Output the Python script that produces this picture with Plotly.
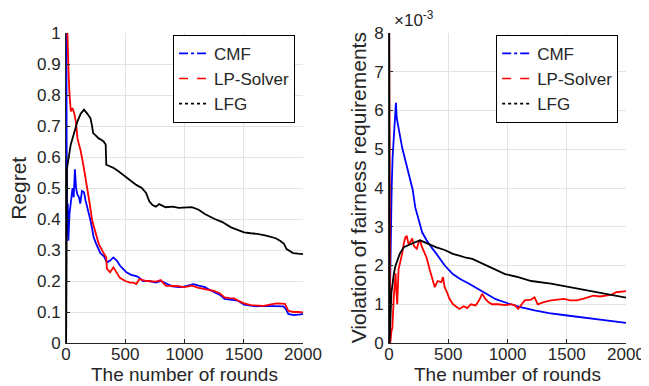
import plotly.graph_objects as go

# ---------------- Left panel: Regret ----------------
cmf_regret_x = [1, 3, 6, 10, 15, 20, 30, 40, 55, 65, 75, 85, 95, 110, 120, 135, 152, 165, 179, 195, 207,
                220, 234, 255, 275, 290, 320, 345, 370, 400, 430, 455, 480, 510, 550, 600, 620, 650, 700,
                760, 800, 850, 897, 950, 979, 1030, 1076, 1120, 1172, 1210, 1255, 1300, 1338, 1400, 1448,
                1503, 1550, 1600, 1669, 1750, 1800, 1834, 1855, 1876, 1920, 1950, 1980, 2000]
cmf_regret_y = [0.03, 1.0, 0.6, 0.35, 0.45, 0.33, 0.42, 0.45, 0.5, 0.47, 0.56, 0.5, 0.48, 0.47, 0.45, 0.49,
                0.486, 0.46, 0.44, 0.41, 0.395, 0.37, 0.34, 0.32, 0.30, 0.29, 0.28, 0.26, 0.265, 0.276,
                0.265, 0.25, 0.24, 0.228, 0.22, 0.215, 0.21, 0.2, 0.2, 0.195, 0.2, 0.19, 0.183, 0.18, 0.18,
                0.185, 0.19, 0.185, 0.18, 0.172, 0.163, 0.155, 0.142, 0.14, 0.137, 0.124, 0.12, 0.118,
                0.12, 0.118, 0.117, 0.118, 0.11, 0.094, 0.09, 0.09, 0.092, 0.094]

lp_regret_x = [12, 16, 22, 30, 41, 55, 70, 83, 97, 110, 124, 146, 162, 179, 200, 221, 248, 276, 317, 340,
               345, 372, 400, 430, 455, 500, 540, 565, 593, 620, 680, 760, 800, 841, 900, 952, 1000, 1062,
               1120, 1172, 1210, 1255, 1300, 1338, 1380, 1421, 1460, 1503, 1560, 1620, 1669, 1720, 1779,
               1820, 1848, 1876, 1920, 1960, 2000]
lp_regret_y = [1.0, 0.93, 0.866, 0.8, 0.747, 0.758, 0.74, 0.715, 0.66, 0.64, 0.62, 0.575, 0.54, 0.5, 0.45,
               0.395, 0.36, 0.32, 0.29, 0.276, 0.24, 0.228, 0.244, 0.225, 0.21, 0.2, 0.195, 0.195, 0.19,
               0.206, 0.2, 0.198, 0.203, 0.185, 0.185, 0.183, 0.18, 0.185, 0.178, 0.174, 0.172, 0.167,
               0.16, 0.147, 0.145, 0.144, 0.135, 0.128, 0.122, 0.12, 0.12, 0.124, 0.128, 0.127, 0.126,
               0.104, 0.1, 0.1, 0.099]

lfg_regret_x = [1, 3, 5, 8, 15, 28, 40, 55, 77, 97, 124, 152, 179, 207, 220, 229, 250, 276, 300, 317,
                335, 340, 370, 400, 440, 483, 540, 593, 640, 676, 703, 730, 759, 786, 841, 900, 952,
                1000, 1062, 1120, 1172, 1255, 1320, 1393, 1450, 1503, 1560, 1614, 1680, 1724, 1770,
                1807, 1840, 1862, 1917, 1960, 2000]
lfg_regret_y = [0.0, 0.45, 0.35, 0.56, 0.58, 0.62, 0.64, 0.66, 0.69, 0.715, 0.74, 0.753, 0.74, 0.725,
                0.70, 0.677, 0.67, 0.66, 0.655, 0.65, 0.64, 0.575, 0.57, 0.565, 0.555, 0.543, 0.525,
                0.51, 0.5, 0.484, 0.457, 0.445, 0.44, 0.448, 0.438, 0.44, 0.436, 0.437, 0.438, 0.43,
                0.416, 0.4, 0.39, 0.373, 0.365, 0.357, 0.354, 0.352, 0.347, 0.343, 0.338, 0.33, 0.32,
                0.303, 0.29, 0.288, 0.287]

# ---------------- Right panel: Violation (x 1e-3) ----------------
cmf_viol_x = [1, 5, 10, 15, 22, 30, 41, 50, 58, 65, 75, 83, 95, 110, 130, 150, 180, 200, 221, 250, 280,
              317, 345, 400, 470, 538, 600, 676, 750, 814, 900, 1007, 1100, 1228, 1350, 1503, 1650,
              1779, 1900, 2000]
cmf_viol_y = [0.0, 1.0, 2.5, 3.5, 4.0, 4.8, 5.5, 5.9, 6.2, 5.8, 5.6, 5.45, 5.3, 5.05, 4.8, 4.5, 4.2, 3.95,
              3.5, 3.16, 2.85, 2.65, 2.52, 2.3, 2.0, 1.78, 1.65, 1.53, 1.4, 1.27, 1.13, 1.02, 0.93, 0.84,
              0.77, 0.71, 0.66, 0.62, 0.56, 0.52]

lp_viol_x = [1, 4, 10, 20, 28, 40, 55, 62, 69, 80, 97, 110, 124, 138, 150, 165, 179, 195, 210, 234, 250,
             262, 275, 290, 317, 345, 370, 386, 410, 441, 455, 469, 490, 510, 540, 560, 593, 630, 660,
             690, 731, 760, 786, 810, 840, 869, 920, 980, 1030, 1062, 1090, 1120, 1145, 1200, 1228, 1255,
             1300, 1366, 1420, 1476, 1530, 1586, 1650, 1724, 1780, 1834, 1880, 1917, 1960, 2000]
lp_viol_y = [8.2, 0.2, 0.0, 0.3, 0.4, 1.2, 1.8, 1.3, 1.0, 1.9, 2.1, 2.3, 2.56, 2.73, 2.75, 2.55, 2.6, 2.7,
             2.5, 2.43, 2.6, 2.65, 2.5, 2.39, 2.2, 1.87, 1.6, 1.44, 1.6, 1.57, 1.7, 1.44, 1.3, 1.14, 1.0,
             0.95, 0.88, 0.95, 0.9, 1.0, 0.97, 1.1, 1.27, 1.15, 1.05, 1.0, 1.0, 0.98, 1.0, 0.97, 0.88,
             1.0, 1.1, 1.12, 1.18, 1.0, 1.05, 1.1, 1.12, 1.14, 1.1, 1.1, 1.15, 1.22, 1.2, 1.22, 1.25,
             1.31, 1.32, 1.34]

lfg_viol_x = [1, 4, 10, 20, 30, 41, 55, 69, 90, 124, 150, 180, 220, 262, 300, 345, 400, 470, 538, 600,
              650, 703, 759, 850, 979, 1090, 1200, 1366, 1500, 1641, 1800, 1900, 2000]
lfg_viol_y = [8.2, 0.0, 0.5, 1.3, 1.6, 1.8, 2.0, 2.13, 2.3, 2.47, 2.5, 2.55, 2.6, 2.65, 2.6, 2.55, 2.47,
              2.4, 2.3, 2.25, 2.2, 2.17, 2.09, 1.95, 1.78, 1.7, 1.6, 1.53, 1.45, 1.38, 1.27, 1.22, 1.17]

series_names = ["CMF", "LP-Solver", "LFG"]
series_colors = ["#0000ff", "#ff0000", "#000000"]
series_dash = ["dashdot", "dash", "dot"]

x_ticks = [0, 500, 1000, 1500, 2000]

TXT = "#262626"
FONT = "Liberation Sans, Arial, Helvetica, sans-serif"

fig = go.Figure()

left_data = [(cmf_regret_x, cmf_regret_y), (lp_regret_x, lp_regret_y), (lfg_regret_x, lfg_regret_y)]
right_data = [(cmf_viol_x, cmf_viol_y), (lp_viol_x, lp_viol_y), (lfg_viol_x, lfg_viol_y)]

for (xs, ys), c in zip(left_data, series_colors):
    fig.add_trace(go.Scatter(x=xs, y=ys, mode="lines", line=dict(color=c, width=1.8),
                             xaxis="x", yaxis="y", showlegend=False, hoverinfo="skip"))
for (xs, ys), c in zip(right_data, series_colors):
    fig.add_trace(go.Scatter(x=xs, y=ys, mode="lines", line=dict(color=c, width=1.8),
                             xaxis="x2", yaxis="y2", showlegend=False, hoverinfo="skip"))

# legend entries (line styles as in the legend of the reference)
for name, c, d in zip(series_names, series_colors, series_dash):
    fig.add_trace(go.Scatter(x=[None], y=[None], mode="lines", name=name,
                             line=dict(color=c, width=1.6, dash=d), xaxis="x", yaxis="y",
                             legend="legend"))
for name, c, d in zip(series_names, series_colors, series_dash):
    fig.add_trace(go.Scatter(x=[None], y=[None], mode="lines", name=name,
                             line=dict(color=c, width=1.6, dash=d), xaxis="x2", yaxis="y2",
                             legend="legend2"))

axis_common = dict(showgrid=True, gridcolor="#e3e3e3", gridwidth=1, zeroline=False,
                   showline=True, linecolor=TXT, linewidth=1, ticks="inside", ticklen=4,
                   tickcolor=TXT, tickfont=dict(size=17, color=TXT, family=FONT))

xaxis_common = dict(axis_common, range=[0, 2000], tickvals=x_ticks, ticklabelstandoff=-4)

legend_common = dict(bgcolor="white", bordercolor="#000000", borderwidth=1,
                     font=dict(size=17, color=TXT, family=FONT), xanchor="right", yanchor="top",
                     itemwidth=30, tracegroupgap=0)

title_font = dict(color=TXT, family=FONT)

fig.update_layout(
    width=649, height=386,
    margin=dict(l=58, r=19, t=25, b=51),
    paper_bgcolor="white", plot_bgcolor="white",
    font=dict(family=FONT, color=TXT),
    xaxis=dict(xaxis_common, domain=[0, 0.4231], anchor="y"),
    xaxis2=dict(xaxis_common, domain=[0.5769, 1], anchor="y2"),
    yaxis=dict(axis_common, range=[0, 1], dtick=0.1, anchor="x", ticklabelstandoff=1),
    yaxis2=dict(axis_common, range=[0, 8], dtick=1, anchor="x2", ticklabelstandoff=1),
    legend=dict(legend_common, x=0.409, y=0.994),
    legend2=dict(legend_common, x=0.986, y=0.994),
    annotations=[
        dict(text="×10<sup>-3</sup>", x=0.582, y=1.045, xref="paper", yref="paper",
             xanchor="left", yanchor="middle", showarrow=False,
             font=dict(size=17, color=TXT, family=FONT)),
        dict(text="The number of rounds", x=0.2115, y=-0.1, xref="paper", yref="paper",
             xanchor="center", yanchor="middle", showarrow=False, font=dict(title_font, size=19)),
        dict(text="The number of rounds", x=0.7885, y=-0.1, xref="paper", yref="paper",
             xanchor="center", yanchor="middle", showarrow=False, font=dict(title_font, size=19)),
        dict(text="Regret", x=-0.086, y=0.5, xref="paper", yref="paper", textangle=-90,
             xanchor="center", yanchor="middle", showarrow=False, font=dict(title_font, size=21)),
        dict(text="Violation of fairness requirements", x=0.522, y=0.5, xref="paper", yref="paper",
             textangle=-90, xanchor="center", yanchor="middle", showarrow=False,
             font=dict(title_font, size=21)),
    ],
)

fig.write_html("out.html")
